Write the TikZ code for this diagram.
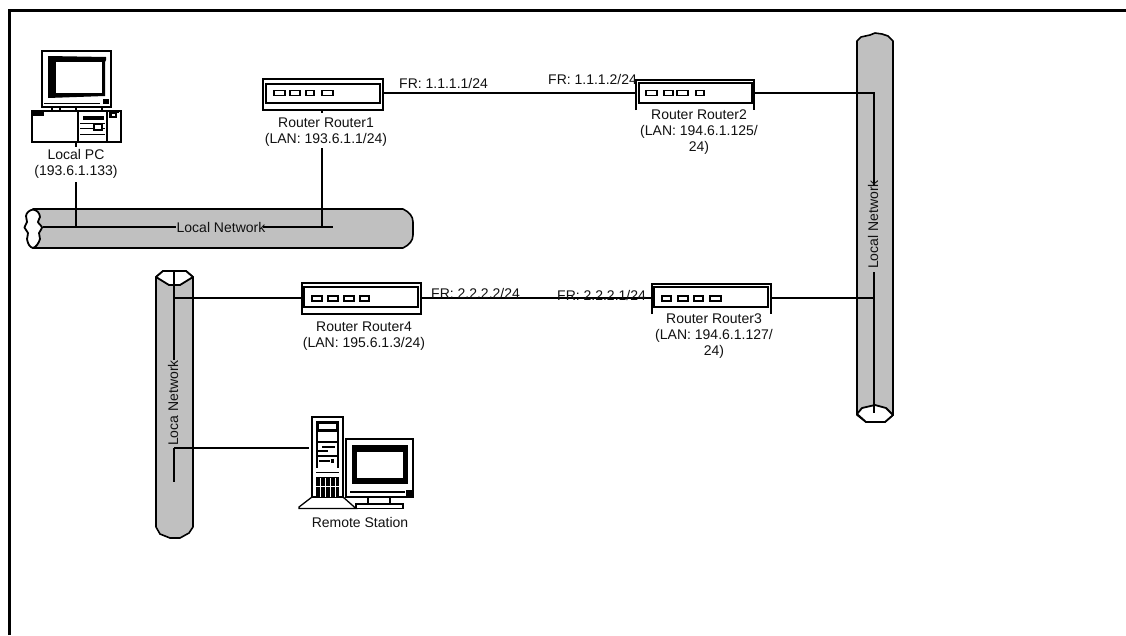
\documentclass[tikz,border=0pt]{standalone}
\usepackage{fontspec}
\setmainfont{Liberation Sans}
\definecolor{tubegray}{HTML}{C0C0C0}
\definecolor{inkblack}{HTML}{111111}
\tikzset{
  lbl/.style={inner sep=0pt,align=center,text=inkblack,font=\fontsize{14}{16.4}\selectfont},
  wire/.style={draw=black,line width=1.4pt},
  heavy/.style={draw=black,line width=2.2pt},
  tube/.style={draw=black,line width=1.6pt,fill=tubegray,line join=round},
  tubecap/.style={draw=black,line width=1.8pt,fill=white,line join=round},
  rbox/.style={draw=black,line width=1.5pt,fill=white,inner sep=0pt},
  rport/.style={draw=black,line width=1.3pt,fill=white},
  pcline/.style={draw=black,line width=1.3pt,fill=white,line join=miter}
}
\newcommand{\ports}[5]{% y, four x pairs
  \foreach \a/\b in {#2,#3,#4,#5}{\draw[rport] (\a,#1-2.5) rectangle (\b,#1+2.5);}}
\begin{document}
\begin{tikzpicture}[x=1pt,y=-1pt]
\useasboundingbox (0,0) rectangle (1126,635);
\fill[white] (0,0) rectangle (1126,635);
% frame
\draw[line width=3pt] (9.5,635) -- (9.5,10.5) -- (1126,10.5);

% --- network tubes ---
\draw[tube] (33,209) -- (403,209) .. controls (409,212) and (413,216) .. (413,222) -- (413,235)
  .. controls (413,241) and (409,245) .. (403,248) -- (33,248) -- cycle;
\draw[tubecap] plot[smooth cycle] coordinates {(33,209.5)(38,212)(40,217)(38,222)(42,227.5)(39,233)(40,239)(37,245)(33,248)(29,245)(27,239)(28,233)(24.5,227.5)(27,222)(26,216)(28,212)};
\draw[tube] (857,41) -- (861,37) -- (870,35) -- (875,33) -- (882,34) -- (888,36) -- (893,41) -- (893,415) -- (885,422) -- (866,422) -- (857,415) -- cycle;
\draw[tubecap] (857,414) -- (862,408) -- (875,405) -- (886,408) -- (893,415) -- (885,422) -- (866,422) -- cycle;
\draw[tube] (156,277) -- (163,271) -- (186,271) -- (193,277) -- (193,527) -- (189,533) -- (180,538) -- (170,538) -- (160,534) -- (156,527) -- cycle;
\draw[tubecap] (156,277) -- (163,271) -- (186,271) -- (193,277) -- (180,285) -- (169,285) -- cycle;

% --- routers ---
\node[rbox,minimum width=120pt,minimum height=31pt] (r1) at (323,94.5) {};
\draw[rbox] (266,84) rectangle (380,103);
\ports{93}{274/285}{290/300}{306/314}{322/333}

\draw[line width=1.5pt] (636,110) -- (636,80) -- (754,80) -- (754,110);
\node[rbox,minimum width=113pt,minimum height=20pt] (r2) at (695.5,93) {};
\ports{93}{646/657}{664/673}{677/688}{696/704}

\draw[line width=1.5pt] (652,314) -- (652,284) -- (771,284) -- (771,314);
\node[rbox,minimum width=114pt,minimum height=20pt] (r3) at (711,297) {};
\ports{298.5}{662/671}{678/688}{694/703}{710/721}

\node[rbox,minimum width=119pt,minimum height=31pt] (r4) at (361.5,298.5) {};
\draw[rbox] (304,287) rectangle (418,307);
\ports{298.5}{312/322}{328/338}{344/354}{360/369}

% --- computers ---
% Local PC
\node[draw=black,line width=1.5pt,fill=white,minimum width=69pt,minimum height=56pt,inner sep=0pt] (pc) at (76.5,79) {};
\fill[black] (48,56) -- (106,57) -- (106,60) -- (105,62) -- (105,96) -- (48,98) -- cycle;
\fill[white] (56,62) rectangle (102,93);
\fill[black] (103,99) rectangle (109,104);
\draw[line width=1.2pt] (44,103.5) -- (100,103.5);
\foreach \x in {52,60,76,102}{\draw[line width=1.3pt] (\x,107) -- (\x,111);}
\node[draw=black,line width=1.5pt,fill=white,minimum width=89pt,minimum height=31pt,inner sep=0pt] (pcbase) at (76.5,126.5) {};
\draw[pcline] (78,111) rectangle (107,142);
\fill[black] (33,112) rectangle (44,116);
\fill[black] (83,116) rectangle (104,120);
\draw[line width=1pt] (80,123) -- (105,123) (80,128) -- (105,128) (80,134) -- (105,134);
\draw[pcline] (94,124) rectangle (102,130);
\draw[line width=1.2pt] (110,113) rectangle (116,117);
\draw[line width=1.2pt] (113,112) -- (119,112);
\fill[black] (110,113) rectangle (112,118);

% Remote station
\draw[pcline] (312,497) -- (299,507) -- (299,508.5) -- (356,508.5) -- (343,497);
\node[draw=black,line width=1.5pt,fill=white,minimum width=31pt,minimum height=80pt,inner sep=0pt] (tower) at (327.5,457) {};
\fill[black] (316,421) rectangle (339,473);
\fill[white] (319,424) rectangle (336,429);
\fill[white] (318,432) rectangle (337,441);
\fill[white] (318,443) rectangle (337,455);
\fill[white] (318,457) rectangle (337,468);
\fill[black] (322,446) rectangle (335,448);
\fill[black] (318,450) rectangle (328,452);
\fill[black] (331,459) rectangle (334,463);
\fill[white] (316,468) rectangle (339,472);
\draw[line width=1.2pt] (319,461) -- (330,461);
\fill[black] (316,477) rectangle (339,497);
\foreach \x in {320,325,330,335}{\draw[white,line width=.8pt] (\x,478) -- (\x,497);}
\draw[white,line width=.8pt] (316,486) -- (339,486);
\draw[pcline] (368,497) rectangle (390,505);
\draw[pcline] (356,504) rectangle (403,508.5);
\node[draw=black,line width=1.5pt,fill=white,minimum width=67pt,minimum height=58pt,inner sep=0pt] (mon) at (379.5,468) {};
\fill[black] (352,445) -- (408,445) -- (408,484) -- (352,484) -- cycle;
\fill[white] (357,452) rectangle (403,478);
\fill[black] (406,490) rectangle (412,496);
\draw[line width=1.2pt] (350,492) -- (405,492);

% --- connectors ---
\coordinate (n1a) at (43,227);
\coordinate (n1b) at (176,227);
\coordinate (n1c) at (263,227);
\coordinate (n1d) at (333,227);
\coordinate (n1pc) at (76,227);
\coordinate (n1r) at (322,227);
\coordinate (pcs) at (76,142);
\coordinate (pce) at (76,147);
\coordinate (pct) at (76,182);
\coordinate (r1s) at (322,110);
\coordinate (r1e) at (322,113);
\coordinate (r1t) at (322,148);
\draw[heavy] (n1a) -- (n1b) (n1c) -- (n1d);
\draw[heavy] (pct) -- (n1pc);
\draw[wire] (pcs) -- (pce) (r1s) -- (r1e);
\draw[wire] (r1t) -- (n1r);

\coordinate (r1p) at (383,93);
\coordinate (r2p) at (636,93);
\coordinate (r2q) at (754,93);
\coordinate (n2t) at (874,93);
\coordinate (n2u) at (874,115);
\coordinate (n2v) at (874,185);
\coordinate (n2w) at (874,272);
\coordinate (n2x) at (874,298);
\coordinate (n2y) at (874,413);
\coordinate (r3q) at (771,298);
\coordinate (r3p) at (652,298);
\coordinate (r4q) at (421,298);
\coordinate (r4p) at (302,298);
\coordinate (n3t) at (174,298);
\coordinate (n3u) at (174,272);
\coordinate (n3v) at (174,360);
\coordinate (n3w) at (174,448);
\coordinate (n3x) at (174,482);
\coordinate (tw) at (309,448);
\draw[wire] (r1p) -- (r2p);
\draw[wire] (r2q) -- (n2t) -- (n2u);
\draw[heavy] (n2u) -- (n2v) (n2w) -- (n2y);
\draw[wire] (r3q) -- (n2x);
\draw[wire] (r3p) -- (r4q);
\draw[wire] (r4p) -- (n3t);
\draw[heavy] (n3u) -- (n3v) (n3w) -- (n3x);
\draw[wire] (n3w) -- (tw);

% --- labels ---
\node[lbl] (tpc) at (76,164) {Local PC\\(193.6.1.133)};
\node[lbl] (tr1) at (326,132) {Router Router1\\(LAN: 193.6.1.1/24)};
\node[lbl] (tr2) at (699,132) {Router Router2\\(LAN: 194.6.1.125/\\24)};
\node[lbl] (tr3) at (714,336) {Router Router3\\(LAN: 194.6.1.127/\\24)};
\node[lbl] (tr4) at (364,336) {Router Router4\\(LAN: 195.6.1.3/24)};
\node[lbl] (trs) at (360,522) {Remote Station};
\node[lbl,anchor=west] (fr1) at (399,83) {FR: 1.1.1.1/24};
\node[lbl,anchor=west] (fr2) at (548,79) {FR: 1.1.1.2/24};
\node[lbl,anchor=west] (fr3) at (431,293) {FR: 2.2.2.2/24};
\node[lbl,anchor=west] (fr4) at (557,295) {FR: 2.2.2.1/24};
\node[lbl] (tn1) at (221,227) {Local Network};
\node[lbl,rotate=90] (tn2) at (873,224.5) {Local Network};
\node[lbl,rotate=90] (tn3) at (173,403) {Loca Network};
\end{tikzpicture}
\end{document}
